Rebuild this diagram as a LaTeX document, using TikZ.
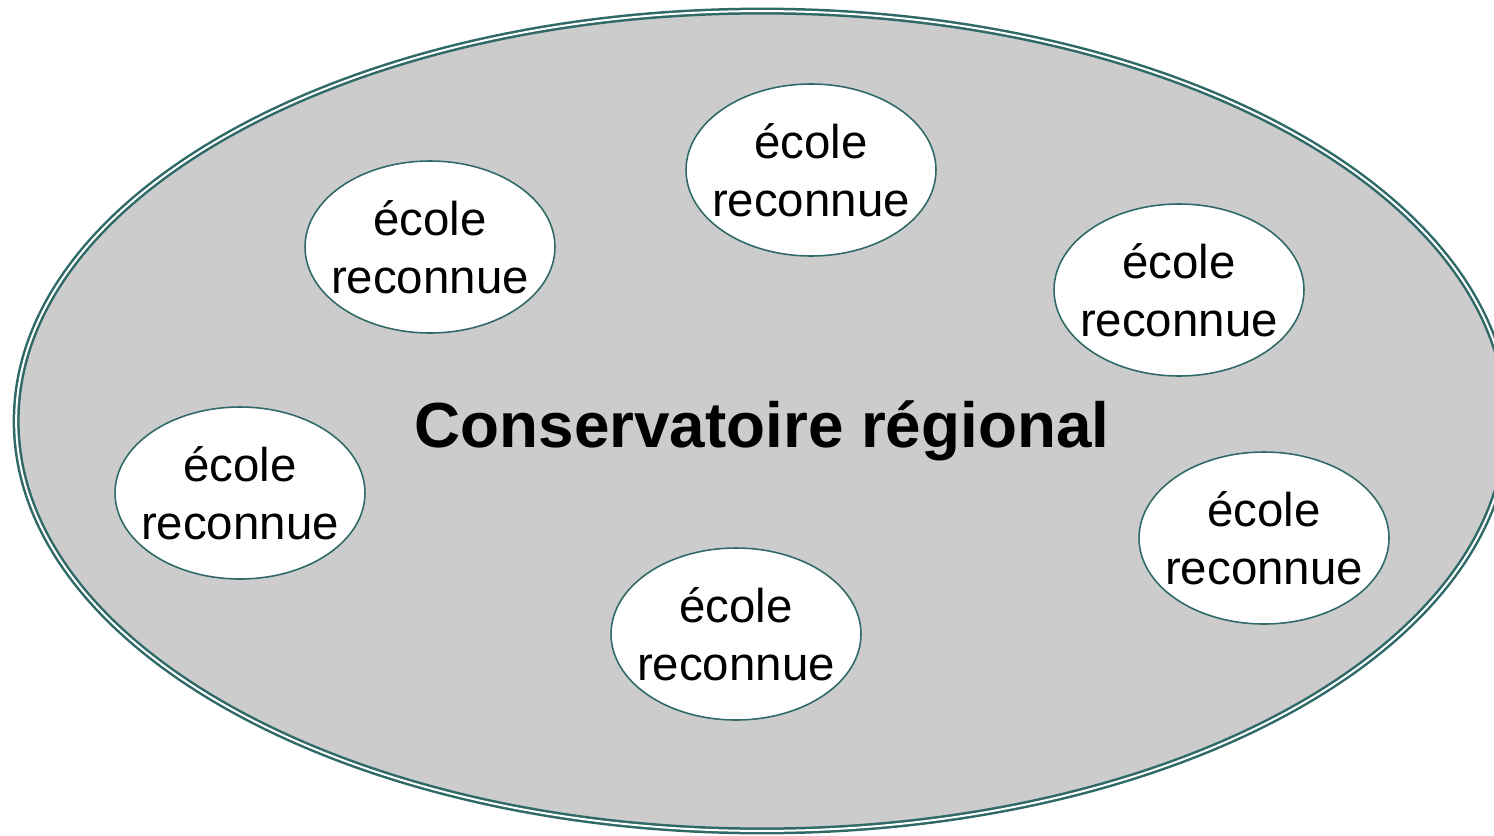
\documentclass[tikz,border=0pt]{standalone}
\usepackage{fontspec}
\setmainfont{Liberation Sans}
\usetikzlibrary{shapes.geometric}
\definecolor{bordvert}{RGB}{47,106,104}
\definecolor{fondgris}{RGB}{204,204,204}

\begin{document}
\begin{tikzpicture}[x=0.02cm,y=-0.02cm,
    region/.style={ellipse,draw=bordvert,line width=0.05cm,double=white,double distance=0.04cm,
        fill=fondgris,minimum width=29.84cm,minimum height=16.4cm,inner sep=0pt},
    ecole/.style={ellipse,draw=bordvert,line width=0.9pt,fill=white,minimum width=5cm,
        minimum height=3.44cm,inner xsep=-0.25cm,inner ysep=0pt,align=center,
        font=\fontsize{27}{33}\selectfont}]

    \useasboundingbox (0,0) rectangle (1494,835);

    \node[region] (cons) at (762,421) {};
    \node[font=\bfseries\fontsize{36.3}{40}\selectfont,anchor=base] (titre) at (762,447) {Conservatoire régional};

    \node[ecole] (e1) at (430,247) {école\\reconnue};
    \node[ecole] (e2) at (811,170) {école\\reconnue};
    \node[ecole] (e3) at (1179,290) {école\\reconnue};
    \node[ecole] (e4) at (240,493) {école\\reconnue};
    \node[ecole] (e5) at (736,634) {école\\reconnue};
    \node[ecole] (e6) at (1264,538) {école\\reconnue};
\end{tikzpicture}
\end{document}
